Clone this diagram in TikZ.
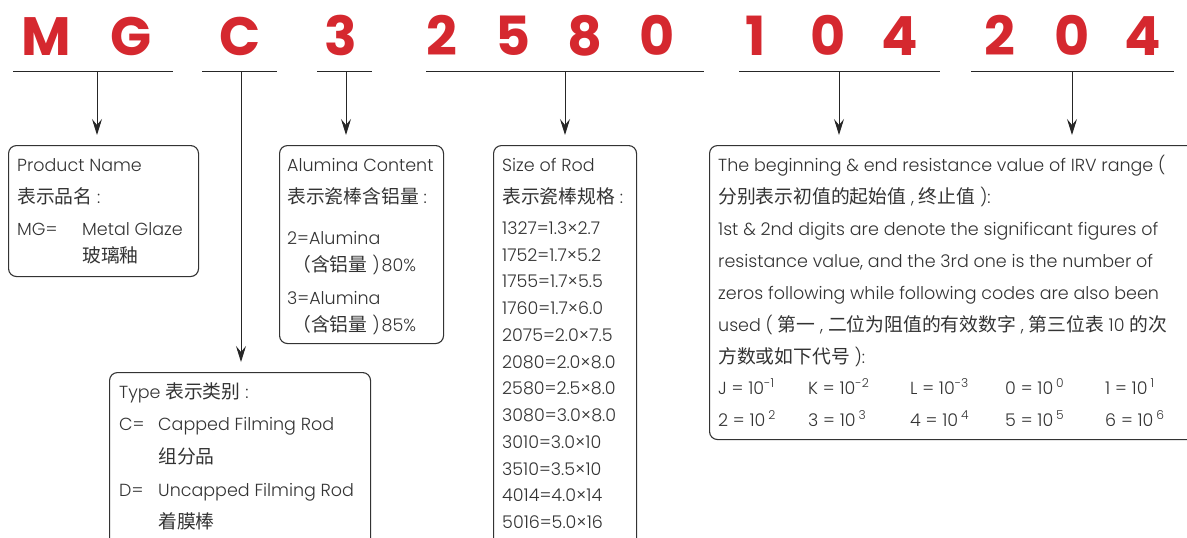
\documentclass[tikz,border=0pt]{standalone}
\usepackage{fontspec}
\setmainfont{Poppins}[UprightFont=* Light]
\newfontfamily\cjk{Noto Sans CJK SC}
\newfontfamily\codefont{Poppins}
\usepackage{tikz}
\usetikzlibrary{positioning, calc, arrows.meta}
\definecolor{codered}{HTML}{D5282F}
\definecolor{ink}{HTML}{333333}
\tikzset{
	codeletter/.style={anchor=base, inner sep=0pt, text=codered, font=\codefont\bfseries\fontsize{54}{54}\selectfont}
}
\tikzset{
	boxtext/.style={anchor=base west, inner sep=0pt, text=ink, font=\fontsize{17.5}{20}\selectfont}
}
\tikzset{
	infobox/.style={draw=ink, line width=1.1pt, rounded corners=8pt, anchor=north west, inner sep=0pt},
	rule/.style={line width=0.9pt, draw=black!85},
	arr/.style={rule, -{Stealth[length=16pt, width=10pt, inset=6pt]}, shorten >=10pt}
}
\newcommand{\zh}[1]{{\cjk\fontsize{18.8}{20}\selectfont #1}}

\begin{document}
\begin{tikzpicture}[x=1pt, y=-1pt]
      \clip (0,0) rectangle (1187,538);
      \foreach \x/\c [count=\i] in {46/M, 131/G, 240/C, 341/3, 442/2, 513/5, 585/8, 657/0, 756/1, 828/0, 900/4, 1000/2, 1072/0, 1143/4}
        \node[codeletter] (c\i) at (\x,55) {\c};
      \foreach \a/\b/\m/\n in {13/173/97/mg, 202/277/241/type, 317/372/346/alum, 426/704/565/size, 739/940/839/lo, 971/1174/1072/hi} {
        \draw[rule] (\a,71) -- (\b,71);
        \coordinate (u\n) at (\m,71);
      }
      \node[infobox, minimum width=190pt, minimum height=131pt] (prod) at (8,145) {};
      \node[infobox, minimum width=261pt, minimum height=200pt] (type) at (109,372) {};
      \node[infobox, minimum width=164pt, minimum height=198pt] (alum) at (279,145) {};
      \node[infobox, minimum width=143pt, minimum height=420pt] (size) at (493,145) {};
      \node[infobox, minimum width=500pt, minimum height=294pt] (irv) at (709,145) {};
      \draw[arr] (umg) -- (umg |- prod.north);
      \draw[arr] (utype) -- (utype |- type.north);
      \draw[arr] (ualum) -- (ualum |- alum.north);
      \draw[arr] (usize) -- (usize |- size.north);
      \draw[arr] (ulo) -- (ulo |- irv.north);
      \draw[arr] (uhi) -- (uhi |- irv.north);
      \node[boxtext] at (17,171) {Product Name};
      \node[boxtext] at (17,203) {\zh{表示品名} :};
      \node[boxtext] at (17,235) {MG=};
      \node[boxtext] at (82,235) {Metal Glaze};
      \node[boxtext] at (82,262) {\zh{玻璃釉}};
      \node[boxtext] at (119,398) {Type \zh{表示类别} :};
      \foreach \y/\k/\t in {430/C=/Capped Filming Rod, 463//\zh{组分品}, 496/D=/Uncapped Filming Rod, 528//\zh{着膜棒}} {
        \node[boxtext] at (119,\y) {\k};
        \node[boxtext] at (158,\y) {\t};
      }
      \foreach \y/\t in {171/Alumina Content, 203/\zh{表示瓷棒含铝量} :, 244/2=Alumina, 304/3=Alumina}
        \node[boxtext] at (287,\y) {\t};
      \foreach \y/\p in {271/80, 331/85}
        \node[boxtext] at (292,\y) {\zh{（含铝量}\hspace{5pt})\hspace{2pt}\p\%};
      \node[boxtext] at (502,171) {Size of Rod};
      \node[boxtext] at (502,203) {\zh{表示瓷棒规格} :};
      \foreach \t [count=\i from 0] in {1327=1.3×2.7, 1752=1.7×5.2, 1755=1.7×5.5, 1760=1.7×6.0, 2075=2.0×7.5, 2080=2.0×8.0, 2580=2.5×8.0, 3080=3.0×8.0, 3010=3.0×10, 3510=3.5×10, 4014=4.0×14, 5016=5.0×16}
        \node[boxtext] at (502,234.5+26.73*\i) {\t};
      \foreach \t [count=\i from 0] in {{The beginning \& end resistance value of IRV range (}, {\zh{分别表示初值的起始值} , \zh{终止值} ):}, {1st \& 2nd digits are denote the significant figures of}, {resistance value, and the 3rd one is the number of}, {zeros following while following codes are also been}, {used ( \zh{第一} , \zh{二位为阻值的有效数字} , \zh{第三位表} 10 \zh{的次}}, {\zh{方数或如下代号} ):}}
        \node[boxtext] at (718,171+32*\i) {\t};
      \foreach \x/\t in {718/J = 10\textsuperscript{-1}, 808/K = 10\textsuperscript{-2}, 910/L = 10\textsuperscript{-3}, 1005/0 = 10\,\textsuperscript{0}, 1105/1 = 10\,\textsuperscript{1}}
        \node[boxtext] at (\x,394) {\t};
      \foreach \x/\t in {718/2 = 10\,\textsuperscript{2}, 808/3 = 10\,\textsuperscript{3}, 910/4 = 10\,\textsuperscript{4}, 1005/5 = 10\,\textsuperscript{5}, 1105/6 = 10\,\textsuperscript{6}}
        \node[boxtext] at (\x,426) {\t};
    \end{tikzpicture}
\end{document}
